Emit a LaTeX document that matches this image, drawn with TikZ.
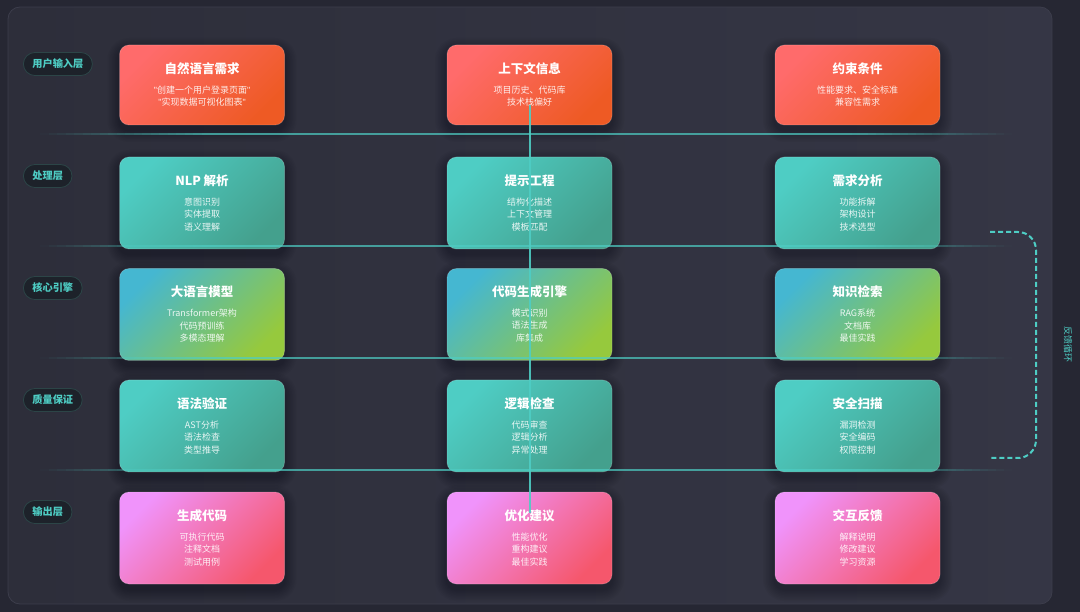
\documentclass[tikz,border=0pt]{standalone}
\usepackage{fontspec}
\setmainfont{Noto Sans CJK SC}
\newfontfamily\qf{Liberation Sans}
\usetikzlibrary{calc}
\definecolor{bgout}{HTML}{262733}
\definecolor{panelA}{HTML}{2D2E3A}
\definecolor{panelB}{HTML}{353645}
\definecolor{panelline}{HTML}{3C3D4B}
\definecolor{accent}{HTML}{4ECDC4}
\definecolor{pillfill}{HTML}{1D222A}
\definecolor{pillline}{HTML}{2C4547}
\definecolor{ra}{HTML}{FF6B6B}\definecolor{rb}{HTML}{EE5A24}
\definecolor{ta}{HTML}{4ECDC4}\definecolor{tb}{HTML}{44A08D}
\definecolor{ga}{HTML}{45B7D1}\definecolor{gb}{HTML}{96C93D}
\definecolor{pa}{HTML}{F093FB}\definecolor{pb}{HTML}{F5576C}
\tikzset{
  card/.style={rounded corners=9.5pt, minimum width=165pt, inner sep=0pt,
    draw=white, draw opacity=0.18, line width=0.8pt},
  redcard/.style={top color=ra, bottom color=rb, shading angle=45},
  tealcard/.style={top color=ta, bottom color=tb, shading angle=45},
  greencard/.style={top color=ga, bottom color=gb, shading angle=45},
  pinkcard/.style={top color=pa, bottom color=pb, shading angle=45},
  ttl/.style={text=white, font=\fontsize{12.5}{14}\selectfont\bfseries, inner sep=0pt},
  sub/.style={text=white, text opacity=0.88, align=center, inner sep=0pt,
    font=\fontsize{9}{12.5}\selectfont},
  layer/.style={draw=pillline, line width=0.8pt, fill=pillfill, rounded corners=11.5pt,
    minimum height=23pt, inner xsep=9pt, inner ysep=0pt, text=accent, anchor=west,
    font=\fontsize{10.2}{12}\selectfont\bfseries},
  vline/.style={draw=accent, draw opacity=0.9, line width=2pt},
  fbline/.style={draw=accent, line width=2pt, dash pattern=on 5pt off 3pt, rounded corners=18pt},
}
\newcommand\stagebox[8]{%
  \foreach \s in {1,...,8} {
    \fill[black, opacity=0.03, rounded corners={(9.5+1.5*\s)*1pt}] ({#2-82.5-1.5*\s},{#3+5-1.5*\s}) rectangle ({#2+82.5+1.5*\s},{#3+#4+5+1.5*\s});
  }
  \node[card,#5,minimum height=#4] (#1) at (#2,{#3+#4/2}) {};
  \node[ttl] (#1t) at ($(#1.north)+(0,24)$) {#6};
  \node[sub] (#1s) at ($(#1.north)+(0,#8)$) {#7};
}
\begin{document}
\begin{tikzpicture}[x=1pt,y=-1pt]
\useasboundingbox (0,0) rectangle (1080,612);
\fill[bgout] (0,0) rectangle (1080,612);
\shade[left color=panelA, right color=panelB, rounded corners=12pt] (8,7) rectangle (1052,604);
\draw[panelline, line width=0.8pt, rounded corners=12pt] (8,7) rectangle (1052,604);

% layer labels
\node[layer] (L1) at (23,64) {用户输入层};
\node[layer] (L2) at (23,176) {处理层};
\node[layer] (L3) at (23,288) {核心引擎};
\node[layer] (L4) at (23,400) {质量保证};
\node[layer] (L5) at (23,512) {输出层};

% row 1
\stagebox{b11}{202}{45}{80}{redcard}{自然语言需求}{{\qf"}创建一个用户登录页面{\qf"}\\{\qf"}实现数据可视化图表{\qf"}}{51.25}
\stagebox{b12}{529.5}{45}{80}{redcard}{上下文信息}{项目历史、代码库\\技术栈偏好}{51.25}
\stagebox{b13}{857.5}{45}{80}{redcard}{约束条件}{性能要求、安全标准\\兼容性需求}{51.25}
% row 2
\stagebox{b21}{202}{157}{92}{tealcard}{NLP 解析}{意图识别\\实体提取\\语义理解}{57.5}
\stagebox{b22}{529.5}{157}{92}{tealcard}{提示工程}{结构化描述\\上下文管理\\模板匹配}{57.5}
\stagebox{b23}{857.5}{157}{92}{tealcard}{需求分析}{功能拆解\\架构设计\\技术选型}{57.5}
% row 3
\stagebox{b31}{202}{268.5}{92}{greencard}{大语言模型}{Transformer架构\\代码预训练\\多模态理解}{57.5}
\stagebox{b32}{529.5}{268.5}{92}{greencard}{代码生成引擎}{模式识别\\语法生成\\库集成}{57.5}
\stagebox{b33}{857.5}{268.5}{92}{greencard}{知识检索}{RAG系统\\文档库\\最佳实践}{57.5}
% row 4
\stagebox{b41}{202}{380}{92}{tealcard}{语法验证}{AST分析\\语法检查\\类型推导}{57.5}
\stagebox{b42}{529.5}{380}{92}{tealcard}{逻辑检查}{代码审查\\逻辑分析\\异常处理}{57.5}
\stagebox{b43}{857.5}{380}{92}{tealcard}{安全扫描}{漏洞检测\\安全编码\\权限控制}{57.5}
% row 5
\stagebox{b51}{202}{492}{92}{pinkcard}{生成代码}{可执行代码\\注释文档\\测试用例}{57.5}
\stagebox{b52}{529.5}{492}{92}{pinkcard}{优化建议}{性能优化\\重构建议\\最佳实践}{57.5}
\stagebox{b53}{857.5}{492}{92}{pinkcard}{交互反馈}{解释说明\\修改建议\\学习资源}{57.5}

% separator lines (fading at both ends)
\foreach \yy in {134,246,358,470} {
  \foreach \i in {0,...,19} {
    \fill[accent, opacity={0.7*(\i+0.5)/20}] ({40+8.5*\i},\yy-0.8) rectangle ({40+8.5*(\i+1)},\yy+0.8);
    \fill[accent, opacity={0.7*(\i+0.5)/20}] ({1012-8*\i},\yy-0.8) rectangle ({1012-8*(\i+1)},\yy+0.8);
  }
  \fill[accent, opacity=0.7] (210,\yy-0.8) rectangle (852,\yy+0.8);
}

% vertical flow line
\draw[vline] ($(b12.north)+(0,60)$) -- ($(b52.north)+(0,21)$);

% feedback loop
\coordinate (fbS) at (990,232);
\coordinate (fbE) at (990,458);
\draw[fbline] (fbS) -- (1036,232) -- (1036,458) -- (fbE);
\node[text=accent, rotate=-90, font=\fontsize{9}{10}\selectfont, inner sep=0pt] (fbT) at (1068,345) {反馈循环};
\end{tikzpicture}
\end{document}
